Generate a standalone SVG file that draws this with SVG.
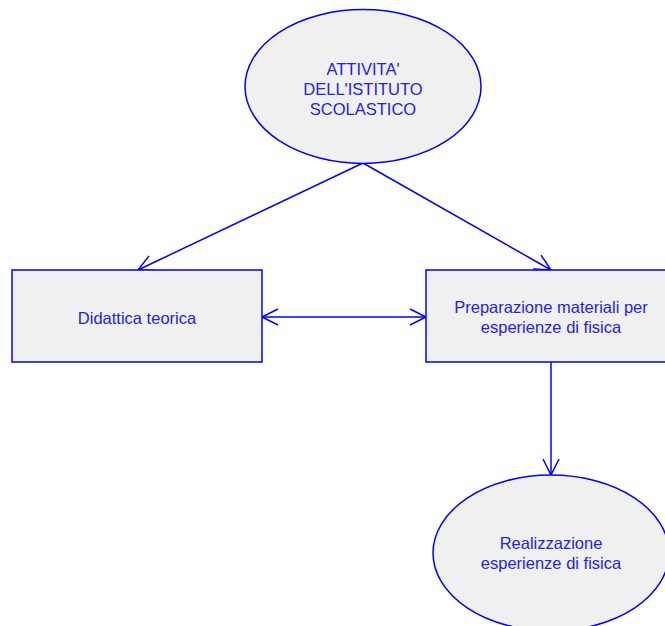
<svg xmlns="http://www.w3.org/2000/svg" width="665" height="626" viewBox="0 0 665 626">
<style>
.node{fill:#f0f0f0;stroke:#0000ff;stroke-width:1.5}
.lbl{font-family:"Liberation Sans",Arial,sans-serif;font-size:16.5px;fill:#2222ee;text-anchor:middle}
.edge{stroke:#0000ff;stroke-width:1.5;fill:none}
</style>
<defs>
<marker id="arr" markerUnits="userSpaceOnUse" markerWidth="20" markerHeight="20" viewBox="-18 -10 20 20" refX="0" refY="0" orient="auto-start-reverse">
<path d="M-16,-8 L0,0 L-16,8" fill="none" stroke="#0000ff" stroke-width="1.5"/>
</marker>
</defs>
<rect width="665" height="626" fill="#ffffff"/>
<g id="connectors">
<line class="edge" x1="363" y1="163" x2="138" y2="270" marker-end="url(#arr)"/>
<line class="edge" x1="363" y1="163" x2="551" y2="270" marker-end="url(#arr)"/>
<line class="edge" x1="262" y1="317" x2="426" y2="317" marker-start="url(#arr)" marker-end="url(#arr)"/>
<line class="edge" x1="551" y1="362" x2="551" y2="475" marker-end="url(#arr)"/>
</g>
<g id="attivita">
<ellipse class="node" cx="363" cy="86.5" rx="118" ry="77"/>
<text class="lbl" x="363" y="75">ATTIVITA'</text>
<text class="lbl" x="363" y="95">DELL'ISTITUTO</text>
<text class="lbl" x="363" y="115">SCOLASTICO</text>
</g>
<g id="didattica">
<rect class="node" x="12" y="270" width="250" height="92"/>
<text class="lbl" x="137" y="324">Didattica teorica</text>
</g>
<g id="preparazione">
<rect class="node" x="426" y="270" width="250" height="92"/>
<text class="lbl" x="551" y="313">Preparazione materiali per</text>
<text class="lbl" x="551" y="333">esperienze di fisica</text>
</g>
<g id="realizzazione">
<ellipse class="node" cx="551" cy="553" rx="118" ry="78"/>
<text class="lbl" x="551" y="549">Realizzazione</text>
<text class="lbl" x="551" y="569">esperienze di fisica</text>
</g>
</svg>
